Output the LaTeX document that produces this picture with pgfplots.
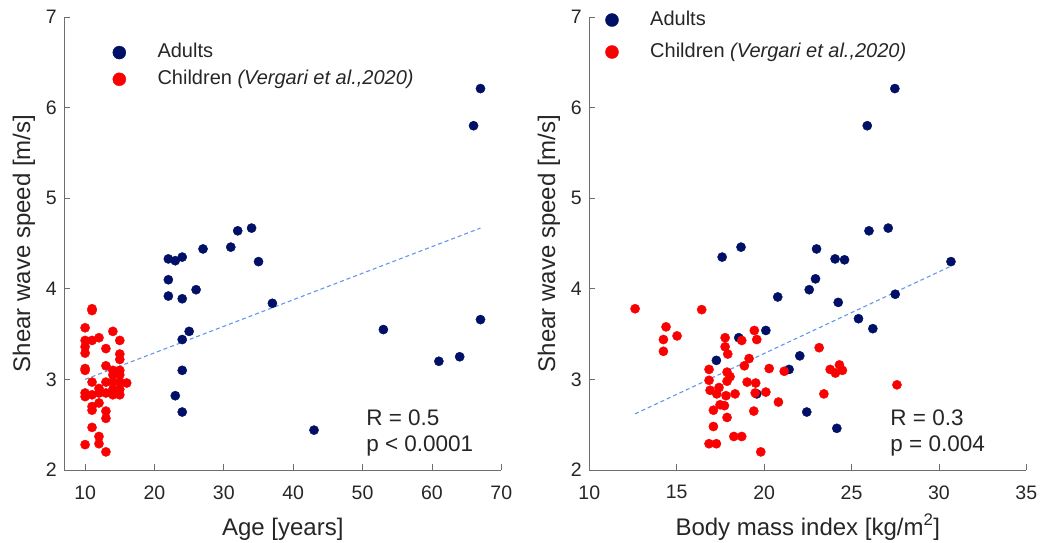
\documentclass[border=0pt]{standalone}
\usepackage{fontspec}
\setmainfont{Liberation Sans}
\usepackage{pgfplots}
\pgfplotsset{compat=1.18}
\definecolor{navy}{RGB}{0,16,102}
\definecolor{myred}{RGB}{250,0,0}
\definecolor{trend}{RGB}{100,150,235}
\definecolor{axgray}{RGB}{110,110,110}
\definecolor{txt}{RGB}{38,38,38}
\pgfplotsset{
  mystyle/.style={
    scale only axis, width=437pt, height=453pt,
    ymin=2, ymax=7, ytick={2,3,4,5,6,7},
    axis lines=left,
    axis line style={-, draw=axgray, line width=0.8pt},
    tick align=inside,
    major tick length=6pt,
    tick style={axgray, line width=0.8pt},
    tick label style={font=\fontsize{19.5}{23}\selectfont, text=txt},
    /pgf/number format/assume math mode=true,
    xticklabel style={yshift=-12pt},
    yticklabel style={xshift=-4pt},
    label style={font=\fontsize{24}{28}\selectfont, text=txt},
    xlabel style={at={(axis description cs:0.5,-0.1435)}, anchor=base},
    ylabel style={at={(axis description cs:-0.0784,0.5)}, anchor=base},
    ylabel={Shear wave speed [m/s]},
    legend cell align=left,
    legend style={draw=none, fill=none, inner sep=0pt,
      font=\fontsize{20}{23}\selectfont, text=txt,
      nodes={text height=14pt, text depth=4pt, inner sep=2pt}},
    legend image code/.code={\draw[#1,mark size=6.5pt] plot coordinates {(0pt,0pt)};\path (-7pt,0pt) (36pt,0pt);},
    clip=false,
  },
  adult/.style={only marks, mark=*, mark size=4.6pt, color=navy, mark options={draw=none, fill=navy}},
  child/.style={only marks, mark=*, mark size=4.6pt, color=myred, mark options={draw=none, fill=myred}},
  trendline/.style={trend, line width=1.1pt, dash pattern=on 4pt off 3pt, forget plot},
}
\begin{document}
\begin{tikzpicture}[x=1pt,y=1pt]
\useasboundingbox (0,0) rectangle (1041,543);
% ---------------- left ----------------
\begin{axis}[mystyle, at={(64.3pt,73pt)}, anchor=south west,
  xmin=7, xmax=70, xtick={10,20,30,40,50,60,70},
  xlabel={Age [years]},
  legend style={at={(axis description cs:0.109,0.892)}, anchor=west, row sep=4.7pt},
]
\addplot[adult] coordinates {
(22,4.33) (23,4.31) (24,4.35) (27,4.44) (31,4.46) (32,4.64) (34,4.67) (35,4.30)
(22,4.10) (22,3.92) (24,3.89) (26,3.99) (37,3.84) (25,3.53) (24,3.44) (24,3.10)
(23,2.82) (24,2.64) (43,2.44) (67,6.21) (66,5.80) (67,3.66) (53,3.55) (61,3.20) (64,3.25)
};
\addlegendentry{Adults}
\addplot[child] coordinates {
(11,3.78) (11,3.76) (10,3.57) (10,3.43) (10,3.36) (10,3.29) (11,3.43) (12,3.46)
(14,3.53) (15,3.43) (13,3.34) (15,3.28) (15,3.22) (10,3.12) (10,3.10) (13,3.15)
(14,3.10) (15,3.10) (14,3.05) (15,3.05) (11,2.97) (13,2.97) (14,2.97) (15,2.97)
(16,2.96) (10,2.85) (10,2.81) (11,2.83) (12,2.90) (12,2.85) (13,2.85) (14,2.89)
(14,2.83) (15,2.89) (15,2.83) (12,2.74) (11,2.70) (11,2.66) (13,2.65) (13,2.57)
(11,2.47) (12,2.37) (12,2.29) (10,2.28) (13,2.20)
};
\addlegendentry{Children \textit{(Vergari et al.,2020)}}
\addplot[trendline] coordinates {(10,3.00) (67,4.67)};
\node[anchor=base west, font=\fontsize{22.5}{26}\selectfont, text=txt] at (axis description cs:0.683,0.099) {R = 0.5};
\node[anchor=base west, font=\fontsize{22.5}{26}\selectfont, text=txt] at (axis description cs:0.683,0.041) {p < 0.0001};
\end{axis}
% ---------------- right ----------------
\begin{axis}[mystyle, at={(589.3pt,73pt)}, anchor=south west,
  xmin=10, xmax=35, xtick={10,15,20,25,30,35},
  xlabel={Body mass index [kg/m\textsuperscript{2}]},
  legend style={at={(axis description cs:0.035,0.958)}, anchor=west, row sep=10pt},
]
\addplot[adult] coordinates {
(27.48,6.21) (25.9,5.80) (26.0,4.64) (27.1,4.67) (17.6,4.35) (18.68,4.46) (23.0,4.44)
(24.06,4.33) (24.6,4.32) (30.69,4.30) (22.94,4.11) (22.58,3.99) (20.78,3.91) (24.24,3.85)
(27.5,3.94) (25.4,3.67) (26.22,3.56) (20.1,3.54) (18.55,3.46) (22.04,3.26) (17.27,3.21)
(21.43,3.11) (19.58,2.84) (22.44,2.64) (24.16,2.46)
};
\addlegendentry{Adults}
\addplot[child] coordinates {
(12.62,3.78) (16.43,3.77) (14.39,3.58) (14.24,3.44) (15.02,3.48) (14.24,3.31) (17.77,3.46)
(18.72,3.43) (19.44,3.54) (19.58,3.44) (17.77,3.36) (17.92,3.28) (19.14,3.23) (18.87,3.15)
(20.29,3.12) (21.15,3.09) (16.85,3.11) (17.88,3.08) (18.05,3.03) (17.88,2.98) (16.85,2.99)
(19.03,2.97) (19.52,2.96) (16.91,2.88) (17.42,2.91) (17.29,2.84) (17.82,2.82) (18.34,2.84)
(19.49,2.85) (20.1,2.86) (20.82,2.75) (17.48,2.72) (17.73,2.71) (17.1,2.66) (19.41,2.65)
(17.88,2.58) (17.1,2.48) (18.27,2.37) (18.72,2.37) (16.85,2.29) (17.27,2.29) (19.81,2.20)
(23.15,3.35) (23.78,3.11) (24.31,3.16) (24.48,3.10) (24.08,3.07) (23.42,2.84) (27.6,2.94)
};
\addlegendentry{Children \textit{(Vergari et al.,2020)}}
\addplot[trendline] coordinates {(12.62,2.62) (30.69,4.25)};
\node[anchor=base west, font=\fontsize{22.5}{26}\selectfont, text=txt] at (axis description cs:0.681,0.099) {R = 0.3};
\node[anchor=base west, font=\fontsize{22.5}{26}\selectfont, text=txt] at (axis description cs:0.681,0.041) {p = 0.004};
\end{axis}
\end{tikzpicture}
\end{document}
